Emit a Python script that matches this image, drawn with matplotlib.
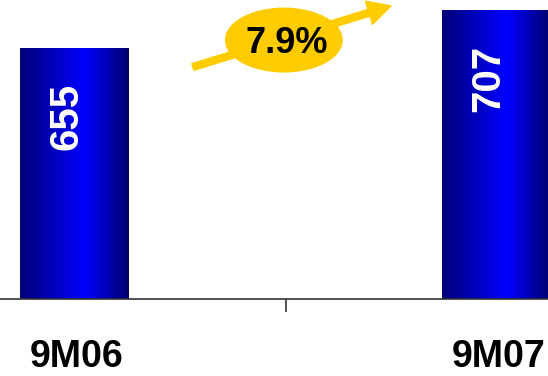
import numpy as np
import matplotlib.pyplot as plt
from matplotlib.patches import Ellipse
from matplotlib.colors import LinearSegmentedColormap

plt.rcParams['font.family'] = ['Liberation Sans', 'DejaVu Sans']

# data
periods = ['9M06', '9M07']
values = [655, 707]
growth_label = '7.9%'

x = np.arange(len(periods))
bar_w = 0.258
y_lo, y_hi = 311.5, 720.7

fig = plt.figure(figsize=(5.48, 3.76), dpi=100)
ax = fig.add_axes([0, 0.2048, 1, 0.7952])

bars = ax.bar(x, values, width=bar_w, color='none', edgecolor='none')

# horizontal gradient: dark navy at the edges, bright blue a bit right of centre
grad_cmap = LinearSegmentedColormap.from_list(
    'bar_grad', [(0.0, '#000078'), (0.6, '#0000ff'), (1.0, '#00006c')])
grad = np.linspace(0, 1, 256).reshape(1, -1)
for b in bars:
    x0 = b.get_x()
    im = ax.imshow(grad, cmap=grad_cmap, aspect='auto', interpolation='bicubic',
                   extent=[x0, x0 + b.get_width(), y_lo, b.get_height()], zorder=2)
    im.set_clip_path(b)
ax.set_xlim(-0.1765, 1.122)
ax.set_ylim(y_lo, y_hi)

for xi, v in zip(x, values):
    ax.text(xi - 0.019, v - 48, str(v), rotation=90, ha='center', va='top',
            color='white', fontsize=29, fontweight='bold', zorder=3)

for xi, lab in zip(x, periods):
    ax.text(xi + 0.006, -0.195, lab, transform=ax.get_xaxis_transform(),
            ha='center', va='center', fontsize=27, fontweight='bold', color='black')

for s in ['left', 'right', 'top']:
    ax.spines[s].set_visible(False)
ax.spines['bottom'].set_color('#333333')
ax.spines['bottom'].set_linewidth(1.2)
ax.set_yticks([])
ax.set_xticks([0.5])
ax.set_xticklabels([''])
ax.tick_params(axis='x', direction='out', length=9, width=1.2, color='#333333')

# growth arrow with ellipse badge
yellow = '#ffcc00'
ax.annotate('', xy=(0.7135, 0.98), xytext=(0.352, 0.776),
            xycoords='axes fraction', textcoords='axes fraction',
            arrowprops=dict(arrowstyle='simple,head_length=0.83,head_width=0.87,tail_width=0.25',
                            color=yellow, mutation_scale=20, shrinkA=0, shrinkB=0),
            zorder=4)
ax.add_patch(Ellipse((0.518, 0.866), 0.2153, 0.2174, transform=ax.transAxes,
                     facecolor=yellow, edgecolor='none', zorder=5, clip_on=False))
ax.text(0.523, 0.856, growth_label, transform=ax.transAxes, ha='center', va='center',
        fontsize=26, fontweight='bold', color='black', zorder=6)

fig.savefig('out.png', dpi=100)
